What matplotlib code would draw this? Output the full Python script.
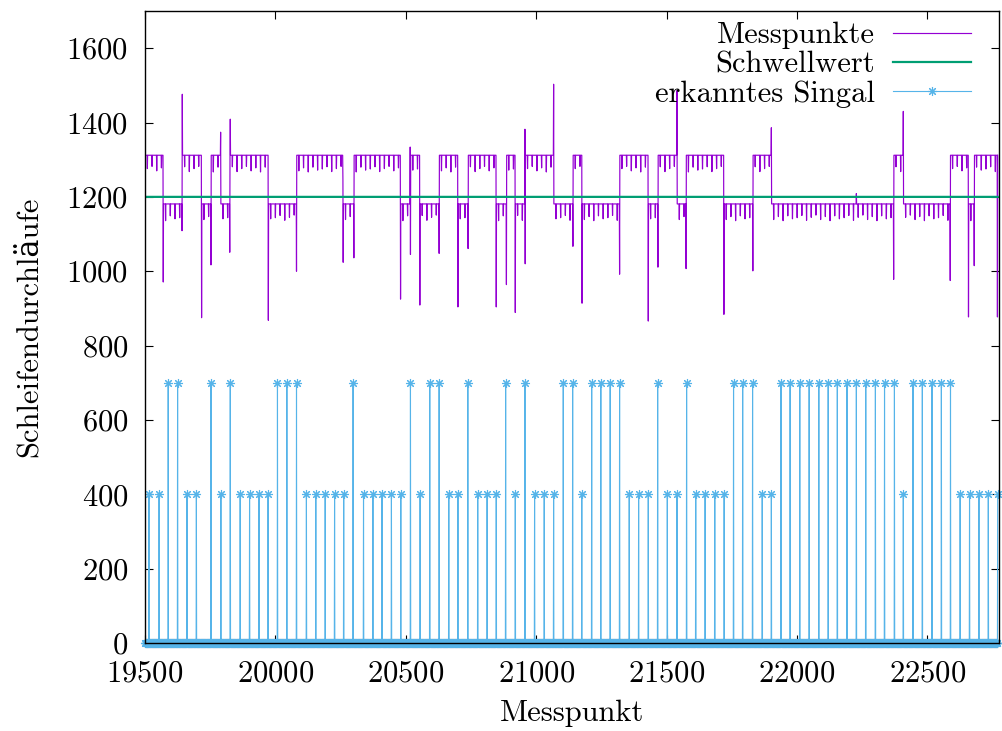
import numpy as np
import matplotlib
matplotlib.use("Agg")
import matplotlib.pyplot as plt

# -------------------------------
# Data
# -------------------------------
x_start, x_end = 19500, 22770
messpunkt = np.arange(x_start, x_end + 1)

# start of each plateau and its level
seg_x = [19500, 19570, 19643, 19717, 19753, 19790, 19826, 19973, 20081, 20260,
         20301, 20480, 20518, 20554, 20628, 20700, 20739, 20847, 20886, 20920,
         20958, 21067, 21141, 21176, 21320, 21430, 21467, 21540, 21575, 21720,
         21831, 21902, 22371, 22408, 22588, 22658, 22680]
seg_level = [1312, 1181, 1312, 1181, 1312, 1181, 1312, 1181, 1312, 1181,
             1312, 1181, 1312, 1181, 1312, 1181, 1312, 1181, 1312, 1181,
             1312, 1181, 1312, 1181, 1312, 1181, 1312, 1181, 1312, 1181,
             1312, 1181, 1312, 1181, 1312, 1181, 1312]

# periodic short drops inside the plateaus
dip_period = 18
dip_depth = [36, 30, 42, 34, 45, 32, 40, 37, 31, 44]

# single outliers (mostly at the level changes)
spike_x = [19570, 19642, 19643, 19717, 19753, 19790, 19825, 19827, 19973, 20081,
           20259, 20260, 20301, 20480, 20517, 20518, 20554, 20628, 20700, 20739,
           20847, 20886, 20920, 20957, 20958, 21067, 21141, 21176, 21320, 21430,
           21467, 21540, 21575, 21720, 21831, 21902, 22228, 22371, 22408, 22588,
           22658, 22680, 22769]
spike_y = [971, 1109, 1476, 875, 1017, 1374, 1051, 1409, 868, 1000,
           1247, 1024, 1036, 925, 1334, 1045, 909, 1048, 904, 1061,
           904, 964, 889, 1382, 1020, 1503, 1067, 914, 992, 866,
           1011, 1486, 1007, 884, 1001, 1386, 1209, 978, 1430, 975,
           877, 1015, 877]

schwellwert = 1200

# detected signal (0 everywhere else)
signal_x = [19515, 19554, 19589, 19625, 19661, 19697, 19753, 19791, 19827, 19865,
            19901, 19937, 19972, 20008, 20044, 20081, 20119, 20155, 20191, 20227,
            20262, 20298, 20338, 20374, 20409, 20445, 20481, 20518, 20555, 20592,
            20628, 20665, 20700, 20738, 20776, 20812, 20847, 20883, 20920, 20957,
            20994, 21031, 21067, 21104, 21140, 21175, 21213, 21248, 21284, 21320,
            21357, 21393, 21430, 21466, 21503, 21540, 21577, 21612, 21648, 21685,
            21721, 21757, 21792, 21830, 21867, 21902, 21939, 21974, 22011, 22047,
            22084, 22120, 22155, 22192, 22228, 22264, 22301, 22336, 22374, 22408,
            22445, 22481, 22518, 22554, 22589, 22626, 22662, 22698, 22734, 22770]
signal_y = [400, 400, 700, 700, 400, 400, 700, 400, 700, 400,
            400, 400, 400, 700, 700, 700, 400, 400, 400, 400,
            400, 700, 400, 400, 400, 400, 400, 700, 400, 700,
            700, 400, 400, 700, 400, 400, 400, 700, 400, 700,
            400, 400, 400, 700, 700, 400, 700, 700, 700, 700,
            400, 400, 400, 700, 400, 400, 700, 400, 400, 400,
            400, 700, 700, 700, 400, 400, 700, 700, 700, 700,
            700, 700, 700, 700, 700, 700, 700, 700, 700, 400,
            700, 700, 700, 700, 700, 400, 400, 400, 400, 400]

# -------------------------------
# Build series
# -------------------------------
mess = np.zeros(len(messpunkt))
bounds = seg_x[1:] + [x_end + 1]
k = 0
for start, stop, level in zip(seg_x, bounds, seg_level):
    sel = (messpunkt >= start) & (messpunkt < stop)
    mess[sel] = level
    for p in range(start + 9, stop - 3, dip_period):
        mess[p - x_start] = level - dip_depth[k % len(dip_depth)]
        k += 1
for sx, sy in zip(spike_x, spike_y):
    mess[sx - x_start] = sy

signal = np.zeros(len(messpunkt))
for sx, sy in zip(signal_x, signal_y):
    signal[sx - x_start] = sy

# -------------------------------
# Plot
# -------------------------------
plt.rcParams['font.family'] = ['cmr10', 'DejaVu Serif']
plt.rcParams['axes.formatter.use_mathtext'] = True
plt.rcParams['mathtext.fontset'] = 'cm'

fig = plt.figure(figsize=(10.02, 7.31), dpi=100)
ax = fig.add_axes([145 / 1002, 88 / 731, 854 / 1002, 632 / 731])

ax.plot(messpunkt, mess, color='#9400D3', lw=0.85, label='Messpunkte')
ax.plot(messpunkt, np.full(len(messpunkt), schwellwert), color='#009E73', lw=1.6,
        label='Schwellwert')
ax.plot(messpunkt, signal, color='#56B4E9', lw=0.8, marker=(8, 2, 0), ms=6.5,
        mew=0.8, clip_on=False, label='erkanntes Singal')

ax.set_xlim(19500, 22775)
ax.set_ylim(0, 1700)
ax.set_xticks(np.arange(19500, 22501, 500))
ax.set_yticks(np.arange(0, 1601, 200))

ax.tick_params(direction='in', length=6, width=0.8, top=True, right=True,
               labelsize=22, colors='black')
ax.tick_params(axis='y', pad=12)
ax.tick_params(axis='x', pad=12)
for sp in ax.spines.values():
    sp.set_linewidth(1.0)

ax.set_xlabel('Messpunkt', fontsize=22, labelpad=9)
ax.set_ylabel('Schleifendurchläufe', fontsize=22, labelpad=17)

leg = ax.legend(loc='upper right', bbox_to_anchor=(0.967, 0.9825), frameon=False,
                markerfirst=False, fontsize=22, handlelength=2.55,
                handletextpad=0.6, labelspacing=0.06, borderaxespad=0.0,
                borderpad=0.0)

plt.savefig('out.png', dpi=100)
plt.close()
